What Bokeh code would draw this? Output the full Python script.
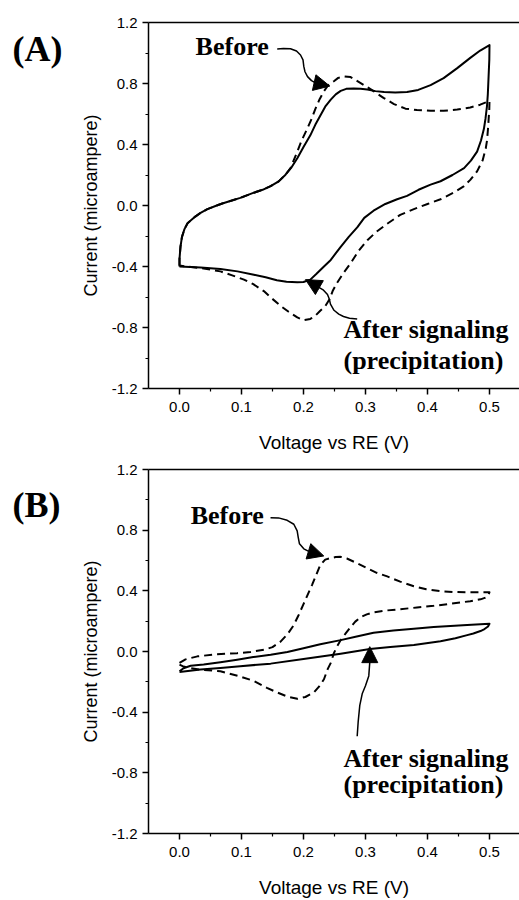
from bokeh.plotting import figure
from bokeh.layouts import column, row
from bokeh.models import (Range1d, FixedTicker, LinearAxis, Label, Arrow,
                          NormalHead, NumeralTickFormatter)
from bokeh.embed import file_html
from bokeh.resources import INLINE

# ---------------- Panel A data (Voltage V, Current microampere) -------------
a_after_v = [0.0, 0.0, 0.0016, 0.004, 0.008, 0.013, 0.018, 0.026, 0.034, 0.045,
             0.058, 0.069, 0.082, 0.098, 0.12, 0.134, 0.147, 0.16, 0.171,
             0.181, 0.19, 0.2, 0.211, 0.219, 0.227, 0.235, 0.244, 0.252, 0.26,
             0.269, 0.281, 0.292, 0.303, 0.316, 0.33, 0.348, 0.367, 0.385,
             0.405, 0.426, 0.448, 0.469, 0.485, 0.5,
             0.4997, 0.499, 0.498, 0.4973, 0.496, 0.4935, 0.491, 0.4863, 0.48,
             0.47, 0.459, 0.4403, 0.421, 0.405, 0.3855, 0.367, 0.351, 0.332,
             0.313, 0.298, 0.287, 0.273, 0.26, 0.2516, 0.244, 0.233, 0.221,
             0.211, 0.2, 0.19, 0.1726, 0.157, 0.139, 0.12, 0.0935, 0.066,
             0.034, 0.0]
a_after_i = [-0.40, -0.35, -0.27, -0.206, -0.155, -0.116, -0.099, -0.071,
             -0.048, -0.024, -0.003, 0.013, 0.03, 0.05, 0.084, 0.103, 0.127,
             0.158, 0.202, 0.252, 0.31, 0.384, 0.46, 0.529, 0.589, 0.648,
             0.694, 0.729, 0.752, 0.765, 0.768, 0.766, 0.761, 0.75, 0.744,
             0.741, 0.744, 0.758, 0.789, 0.835, 0.901, 0.968, 1.016, 1.052,
             0.955, 0.89, 0.794, 0.729, 0.654, 0.568, 0.503, 0.426, 0.353,
             0.294, 0.245, 0.2, 0.159, 0.137, 0.103, 0.063, 0.041, 0.01,
             -0.034, -0.081, -0.142, -0.206, -0.271, -0.316, -0.357, -0.40,
             -0.448, -0.486, -0.502, -0.503, -0.50, -0.49, -0.471, -0.454,
             -0.432, -0.417, -0.406, -0.40]

a_before_v = [0.0, 0.0, 0.0016, 0.004, 0.008, 0.013, 0.018, 0.026, 0.034,
              0.045, 0.058, 0.069, 0.082, 0.098, 0.12, 0.134, 0.147, 0.16,
              0.171, 0.179, 0.19, 0.197, 0.206, 0.213, 0.219, 0.226, 0.233,
              0.24, 0.249, 0.256, 0.265, 0.276, 0.287, 0.3, 0.313, 0.329,
              0.346, 0.3645, 0.383, 0.405, 0.426, 0.448, 0.469, 0.485, 0.5,
              0.4997, 0.499, 0.4976, 0.496, 0.494, 0.489, 0.48, 0.469, 0.459,
              0.442, 0.421, 0.4, 0.378, 0.356, 0.335, 0.318, 0.303, 0.289,
              0.276, 0.2645, 0.254, 0.247, 0.242, 0.235, 0.227, 0.219, 0.211,
              0.2, 0.19, 0.176, 0.163, 0.148, 0.136, 0.119, 0.104, 0.085,
              0.066, 0.034, 0.0]
a_before_i = [-0.394, -0.35, -0.27, -0.206, -0.155, -0.116, -0.099, -0.071,
              -0.048, -0.024, -0.003, 0.013, 0.03, 0.05, 0.084, 0.103, 0.127,
              0.158, 0.202, 0.245, 0.353, 0.426, 0.503, 0.568, 0.632, 0.697,
              0.75, 0.79, 0.815, 0.837, 0.847, 0.842, 0.815, 0.784, 0.75,
              0.706, 0.665, 0.635, 0.626, 0.621, 0.621, 0.629, 0.643, 0.661,
              0.686, 0.632, 0.589, 0.503, 0.426, 0.374, 0.297, 0.224, 0.168,
              0.127, 0.084, 0.041, 0.01, -0.024, -0.061, -0.12, -0.171, -0.228,
              -0.297, -0.379, -0.442, -0.508, -0.561, -0.615, -0.661, -0.69,
              -0.723, -0.744, -0.752, -0.734, -0.697, -0.658, -0.606, -0.561,
              -0.516, -0.486, -0.458, -0.432, -0.41, -0.394]

# ---------------- Panel B data ----------------------------------------------
b_after_v = [0.0, 0.0065, 0.018, 0.039, 0.066, 0.093, 0.119, 0.147, 0.174, 0.2,
             0.227, 0.26, 0.284, 0.313, 0.345, 0.378, 0.41, 0.437, 0.464,
             0.4855, 0.5,
             0.4976, 0.492, 0.4855, 0.474, 0.464, 0.445, 0.421, 0.378, 0.34,
             0.307, 0.26, 0.2, 0.147, 0.098, 0.066, 0.034, 0.0]
b_after_i = [-0.13, -0.11, -0.094, -0.086, -0.071, -0.054, -0.037, -0.022,
             -0.003, 0.022, 0.048, 0.075, 0.097, 0.123, 0.139, 0.15, 0.161,
             0.168, 0.174, 0.179, 0.183,
             0.165, 0.148, 0.135, 0.119, 0.108, 0.087, 0.068, 0.043, 0.029,
             0.016, -0.015, -0.05, -0.08, -0.097, -0.108, -0.119, -0.135]

b_before_v = [0.0, 0.0097, 0.029, 0.058, 0.093, 0.1145, 0.136, 0.15, 0.163,
              0.174, 0.184, 0.192, 0.2, 0.207, 0.214, 0.221, 0.227, 0.235,
              0.244, 0.252, 0.26, 0.27, 0.2855, 0.303, 0.318, 0.335, 0.356,
              0.378, 0.398, 0.421, 0.442, 0.464, 0.4855, 0.5,
              0.498, 0.4935, 0.4855, 0.469, 0.453, 0.432, 0.41, 0.383, 0.356,
              0.335, 0.313, 0.302, 0.292, 0.2835, 0.276, 0.268, 0.26, 0.254,
              0.249, 0.244, 0.239, 0.233, 0.225, 0.217, 0.203, 0.19, 0.174,
              0.157, 0.141, 0.12, 0.098, 0.066, 0.034, 0.018, 0.005, 0.0]
b_before_i = [-0.075, -0.052, -0.032, -0.019, -0.011, -0.003, 0.011, 0.029,
              0.065, 0.113, 0.172, 0.239, 0.312, 0.377, 0.441, 0.51, 0.57,
              0.606, 0.616, 0.623, 0.624, 0.613, 0.584, 0.548, 0.519, 0.495,
              0.461, 0.43, 0.41, 0.398, 0.392, 0.391, 0.391, 0.391,
              0.371, 0.355, 0.344, 0.332, 0.323, 0.312, 0.301, 0.29, 0.279,
              0.271, 0.258, 0.245, 0.226, 0.197, 0.161, 0.119, 0.075, 0.032,
              -0.011, -0.075, -0.116, -0.183, -0.232, -0.269, -0.30, -0.312,
              -0.297, -0.269, -0.24, -0.194, -0.165, -0.13, -0.12, -0.11,
              -0.097, -0.087]

y_ticks = [-1.2, -0.8, -0.4, 0.0, 0.4, 0.8, 1.2]
y_minor = [-1.0, -0.6, -0.2, 0.2, 0.6, 1.0]
x_ticks = [0.0, 0.1, 0.2, 0.3, 0.4, 0.5]
x_minor = [0.05, 0.15, 0.25, 0.35, 0.45]

X_TITLE = "Voltage vs RE (V)"
Y_TITLE = "Current (microampere)"

SERIF = "Liberation Serif"
SANS = "Liberation Sans"

TAG_W = 70


def make_tag(height, text, baseline_px):
    t = figure(width=TAG_W, height=height, output_backend="svg",
               toolbar_location=None, title=None, x_range=Range1d(0, TAG_W),
               y_range=Range1d(height, 0), min_border=0)
    t.axis.visible = False
    t.grid.visible = False
    t.outline_line_color = None
    t.add_layout(Label(x=12, y=baseline_px, text=text, text_font=SERIF,
                       text_font_style="bold", text_font_size="36px",
                       text_color="black", text_align="left",
                       text_baseline="alphabetic"))
    return t


def make_panel(height, border_top, border_bottom, after_v, after_i, before_v,
               before_i, before_pos, before_curve, before_head,
               after_pos, after_curve, after_head):
    p = figure(width=519 - TAG_W, height=height, output_backend="svg",
               toolbar_location=None,
               x_range=Range1d(-0.05, 0.5484), y_range=Range1d(-1.2, 1.2),
               min_border_left=148 - TAG_W, min_border_right=0,
               min_border_top=border_top, min_border_bottom=border_bottom)
    p.outline_line_color = None
    p.grid.visible = False
    p.background_fill_color = "white"
    p.border_fill_color = "white"

    for ax in (p.xaxis[0], p.yaxis[0]):
        ax.axis_line_width = 1.5
        ax.axis_line_color = "black"
        ax.major_tick_line_color = "black"
        ax.minor_tick_line_color = "black"
        ax.major_tick_line_width = 1.5
        ax.minor_tick_line_width = 1.2
        ax.major_tick_in = 0
        ax.major_tick_out = 6
        ax.minor_tick_in = 0
        ax.minor_tick_out = 3
        ax.major_label_text_font = SANS
        ax.major_label_text_font_size = "15px"
        ax.major_label_text_color = "black"
        ax.axis_label_text_font = SANS
        ax.axis_label_text_font_style = "normal"
        ax.axis_label_text_color = "black"
        ax.formatter = NumeralTickFormatter(format="0.0")
    p.xaxis[0].axis_label_text_font_size = "19px"
    p.yaxis[0].axis_label_text_font_size = "18px"
    p.xaxis[0].ticker = FixedTicker(ticks=x_ticks, minor_ticks=x_minor)
    p.yaxis[0].ticker = FixedTicker(ticks=y_ticks, minor_ticks=y_minor)
    p.xaxis[0].axis_label = X_TITLE
    p.yaxis[0].axis_label = Y_TITLE
    p.xaxis[0].major_label_standoff = 7
    p.yaxis[0].major_label_standoff = 5
    p.xaxis[0].axis_label_standoff = 17
    p.yaxis[0].axis_label_standoff = 8

    top = LinearAxis(ticker=FixedTicker(ticks=[]), axis_line_width=1.5,
                     axis_line_color="black", major_tick_line_color=None,
                     minor_tick_line_color=None,
                     major_label_text_font_size="0px")
    p.add_layout(top, "above")

    p.line(after_v, after_i, line_color="black", line_width=2,
           line_join="round")
    p.line(before_v, before_i, line_color="black", line_width=2,
           line_dash="8 5", line_join="round")

    p.add_layout(Label(x=before_pos[0], y=before_pos[1], text="Before",
                       text_font=SERIF, text_font_style="bold",
                       text_font_size="26px", text_color="black",
                       text_baseline="alphabetic"))
    p.add_layout(Label(x=after_pos[0], y=after_pos[1], text="After signaling",
                       text_font=SERIF, text_font_style="bold",
                       text_font_size="26px", text_color="black",
                       text_baseline="alphabetic"))
    p.add_layout(Label(x=after_pos[0], y=after_pos[2], text="(precipitation)",
                       text_font=SERIF, text_font_style="bold",
                       text_font_size="26px", text_color="black",
                       text_baseline="alphabetic"))

    for curve, head in ((before_curve, before_head), (after_curve, after_head)):
        p.line(curve[0], curve[1], line_color="black", line_width=1.5,
               line_join="round")
        p.add_layout(Arrow(end=NormalHead(size=16, fill_color="black",
                                          line_color="black"),
                           x_start=head[0], y_start=head[1],
                           x_end=head[2], y_end=head[3],
                           line_color="black", line_width=1.5))
    return p


pA = make_panel(
    455, 22, 61, a_after_v, a_after_i, a_before_v, a_before_i,
    (0.026, 1.045),
    ([0.1576, 0.1677, 0.179, 0.1887, 0.1952, 0.1992, 0.2005, 0.2024, 0.2065,
      0.2129, 0.2194],
     [1.026, 1.029, 1.028, 1.013, 0.987, 0.955, 0.912, 0.877, 0.845, 0.819,
      0.804]),
    (0.2194, 0.804, 0.2424, 0.783),
    (0.2645, -0.813, -1.019),
    ([0.2866, 0.2742, 0.2645, 0.2569, 0.2492, 0.2435, 0.2416, 0.2387, 0.2323,
      0.2242],
     [-0.744, -0.739, -0.728, -0.712, -0.687, -0.647, -0.613, -0.584, -0.555,
      -0.535]),
    (0.2242, -0.535, 0.2032, -0.486),
)

pB = make_panel(
    445, 14, 59, b_after_v, b_after_i, b_before_v, b_before_i,
    (0.018, 0.897),
    ([0.1468, 0.1597, 0.1737, 0.1844, 0.1898, 0.1915, 0.1935, 0.2005, 0.2085],
     [0.882, 0.881, 0.865, 0.839, 0.795, 0.753, 0.71, 0.677, 0.66]),
    (0.2085, 0.66, 0.2327, 0.63),
    (0.2645, -0.705, -0.877),
    ([0.2866, 0.2882, 0.2908, 0.2947, 0.30, 0.3053, 0.3069],
     [-0.559, -0.463, -0.355, -0.279, -0.226, -0.161, -0.071]),
    (0.3069, -0.071, 0.3069, 0.032),
)

tagA = make_tag(455, "(A)", 33)
tagB = make_tag(445, "(B)", 44)

layout = column(row(tagA, pA), row(tagB, pB))
open("out.html", "w").write(file_html(layout, INLINE))
